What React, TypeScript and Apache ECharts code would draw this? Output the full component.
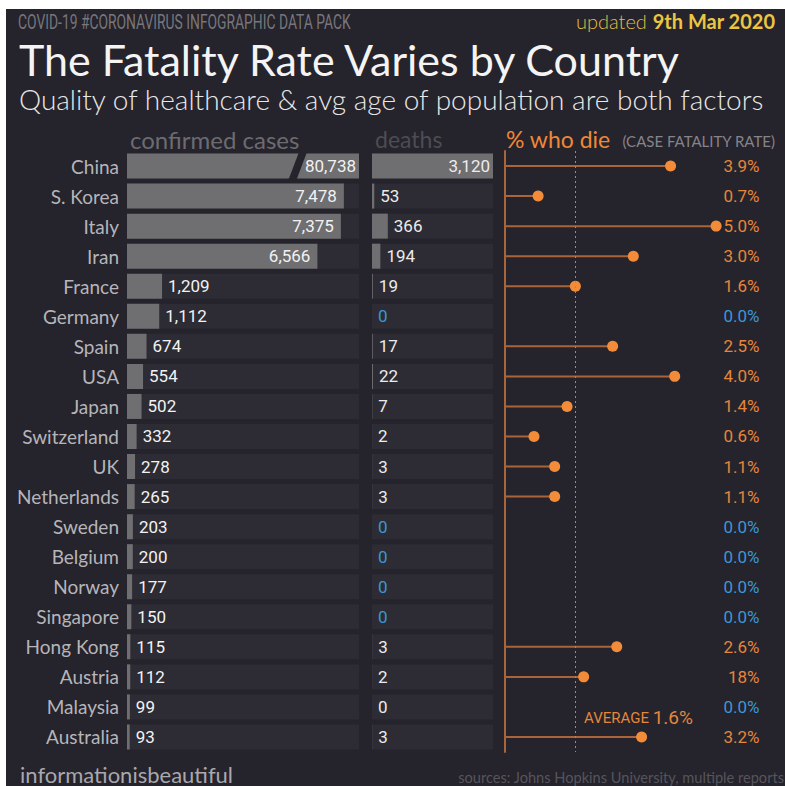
import React, { useEffect, useRef } from "react";
import * as echarts from "echarts";

const countries = ["China", "S. Korea", "Italy", "Iran", "France", "Germany", "Spain", "USA", "Japan", "Switzerland", "UK", "Netherlands", "Sweden", "Belgium", "Norway", "Singapore", "Hong Kong", "Austria", "Malaysia", "Australia"];
const confirmedCases = [80738, 7478, 7375, 6566, 1209, 1112, 674, 554, 502, 332, 278, 265, 203, 200, 177, 150, 115, 112, 99, 93];
const deaths = [3120, 53, 366, 194, 19, 0, 17, 22, 7, 2, 3, 3, 0, 0, 0, 0, 3, 2, 0, 3];
const fatalityRate = [3.9, 0.7, 5.0, 3.0, 1.6, 0.0, 2.5, 4.0, 1.4, 0.6, 1.1, 1.1, 0.0, 0.0, 0.0, 0.0, 2.6, 1.8, 0.0, 3.2];
const rateLabels = ["3.9%", "0.7%", "5.0%", "3.0%", "1.6%", "0.0%", "2.5%", "4.0%", "1.4%", "0.6%", "1.1%", "1.1%", "0.0%", "0.0%", "0.0%", "0.0%", "2.6%", "18%", "0.0%", "3.2%"];
const blueZeroDeaths = ["Germany", "Sweden", "Belgium", "Norway", "Singapore"];
const averageRate = 1.6;
const casesAxisMax = 8000;
const deathsAxisMax = 2800;

const BG = "#25232b";
const TRACK = "#2d2b33";
const BAR = "#6f6e71";
const ORANGE = "#f28c38";
const ORANGE_TEXT = "#e4863c";
const STEM = "#a9643a";
const BLUE = "#3b97d6";
const NUM_FONT = "Roboto, sans-serif";
const TXT_FONT = "Lato, 'Noto Sans', sans-serif";

const fmt = (v: number) => v.toLocaleString("en-US");

export default function App() {
  const ref = useRef<HTMLDivElement>(null);
  useEffect(() => {
    if (!ref.current) return;
    const chart = echarts.init(ref.current, undefined, { renderer: "svg" });
    const top = 151;
    const height = 601;
    const catAxis = (gridIndex: number, extra: any = {}) => ({
      type: "category",
      gridIndex,
      inverse: true,
      data: countries,
      axisTick: { show: false },
      axisLine: { show: false },
      axisLabel: { show: false },
      splitLine: { show: false },
      ...extra,
    });
    const valAxis = (gridIndex: number, min: number, max: number) => ({
      type: "value",
      gridIndex,
      min,
      max,
      show: false,
      splitLine: { show: false },
    });

    const option: any = {
      animation: false,
      backgroundColor: "#ffffff",
      textStyle: { fontFamily: TXT_FONT },
      grid: [
        { left: 127, top, width: 232, height },
        { left: 372, top, width: 121, height },
        { left: 505, top, width: 252.5, height },
      ],
      xAxis: [valAxis(0, 0, casesAxisMax), valAxis(1, 0, deathsAxisMax), valAxis(2, -0.1, 6)],
      yAxis: [
        catAxis(0, {
          axisLabel: { show: true, color: "#b6b5ba", fontSize: 19, fontFamily: TXT_FONT, margin: 8 },
        }),
        catAxis(1),
        catAxis(2, {
          axisLine: { show: true, onZero: false, lineStyle: { color: STEM, width: 2 } },
        }),
        catAxis(2, {
          position: "right",
          axisLabel: {
            show: true,
            align: "right",
            margin: 2,
            fontSize: 17,
            fontFamily: NUM_FONT,
            color: (_v: any, i: number) => (fatalityRate[i] > 0 ? ORANGE_TEXT : BLUE),
            formatter: (_v: any, i: number) => rateLabels[i],
          },
        }),
      ],
      series: [
        {
          type: "bar",
          xAxisIndex: 0,
          yAxisIndex: 0,
          barWidth: 25,
          showBackground: true,
          backgroundStyle: { color: TRACK },
          itemStyle: { color: BAR },
          data: confirmedCases.map((v, i) => ({
            value: Math.min(v, casesAxisMax),
            label: {
              show: true,
              position: v > 3000 ? "insideRight" : "right",
              distance: i === 0 ? 3 : v > 3000 ? 7 : 6,
              color: "#f2f2f2",
              fontSize: 17,
              fontFamily: NUM_FONT,
              formatter: () => fmt(v),
            },
          })),
        },
        {
          type: "bar",
          xAxisIndex: 1,
          yAxisIndex: 1,
          barWidth: 25,
          showBackground: true,
          backgroundStyle: { color: TRACK },
          itemStyle: { color: BAR },
          data: deaths.map((v, i) => ({
            value: Math.min(v, deathsAxisMax),
            label: {
              show: true,
              position: v > deathsAxisMax ? "insideRight" : "right",
              distance: v > deathsAxisMax ? 3 : 6,
              color: v === 0 && blueZeroDeaths.includes(countries[i]) ? BLUE : "#ececec",
              fontSize: 17,
              fontFamily: NUM_FONT,
              formatter: () => fmt(v),
            },
          })),
        },
        {
          type: "custom",
          xAxisIndex: 2,
          yAxisIndex: 2,
          data: fatalityRate.map((v, i) => [v, i]),
          encode: { x: 0, y: 1 },
          renderItem: (params: any, api: any) => {
            const v = api.value(0);
            if (!(v > 0)) return { type: "group", children: [] };
            const start = api.coord([-0.1, api.value(1)]);
            const end = api.coord([v, api.value(1)]);
            return {
              type: "group",
              children: [
                {
                  type: "line",
                  shape: { x1: start[0], y1: start[1], x2: end[0], y2: end[1] },
                  style: { stroke: STEM, lineWidth: 2 },
                },
                {
                  type: "circle",
                  shape: { cx: end[0], cy: end[1], r: 5.5 },
                  style: { fill: ORANGE },
                },
              ],
            };
          },
          markLine: {
            silent: true,
            symbol: "none",
            label: { show: false },
            lineStyle: { color: "#8f8e94", type: [2, 3], width: 1 },
            data: [{ xAxis: averageRate }],
          },
        },
      ],
      graphic: [
        { type: "rect", z: -10, shape: { x: 6, y: 9, width: 800, height: 800 }, style: { fill: BG } },
        {
          type: "polygon",
          z: 100,
          shape: { points: [[299, 152], [307, 152], [296, 181], [288, 181]] },
          style: { fill: BG },
        },
        {
          type: "text", z: 100, x: 18, y: 21, scaleX: 0.66,
          style: { text: "COVID-19 #CORONAVIRUS INFOGRAPHIC DATA PACK", fill: "#77767c", fontSize: 21, fontFamily: NUM_FONT, verticalAlign: "middle" },
        },
        {
          type: "text", z: 100, x: 775, y: 21,
          style: {
            text: "{a|updated }{b|9th Mar 2020}",
            align: "right",
            verticalAlign: "middle",
            rich: {
              a: { fill: "#e2bf45", fontSize: 20, fontFamily: TXT_FONT, fontWeight: 300 },
              b: { fill: "#ecc643", fontSize: 20, fontFamily: TXT_FONT, fontWeight: "bold" },
            },
          },
        },
        {
          type: "text", z: 100, x: 19, y: 59,
          style: { text: "The Fatality Rate Varies by Country", fill: "#f4f4f4", fontSize: 43, fontFamily: TXT_FONT, fontWeight: 400, verticalAlign: "middle" },
        },
        {
          type: "text", z: 100, x: 19, y: 99,
          style: { text: "Quality of healthcare & avg age of population are both factors", fill: "#e8e8e8", fontSize: 28, fontFamily: TXT_FONT, fontWeight: 300, verticalAlign: "middle" },
        },
        {
          type: "text", z: 100, x: 130, y: 139,
          style: { text: "confirmed cases", fill: "#6c6b71", fontSize: 24, fontFamily: TXT_FONT, verticalAlign: "middle" },
        },
        {
          type: "text", z: 100, x: 375, y: 139,
          style: { text: "deaths", fill: "#4d4c53", fontSize: 23, fontFamily: TXT_FONT, verticalAlign: "middle" },
        },
        {
          type: "text", z: 100, x: 506, y: 139,
          style: { text: "% who die", fill: "#ee8838", fontSize: 23, fontFamily: TXT_FONT, verticalAlign: "middle" },
        },
        {
          type: "text", z: 100, x: 775, y: 141,
          style: { text: "(CASE FATALITY RATE)", fill: "#85848a", fontSize: 15, fontFamily: TXT_FONT, align: "right", verticalAlign: "middle" },
        },
        {
          type: "text", z: 100, x: 584, y: 717,
          style: {
            text: "{a|AVERAGE }{b|1.6%}",
            verticalAlign: "middle",
            rich: {
              a: { fill: "#e4863c", fontSize: 15, fontFamily: NUM_FONT, padding: [2, 0, 0, 0] },
              b: { fill: "#e4863c", fontSize: 19, fontFamily: NUM_FONT },
            },
          },
        },
        {
          type: "text", z: 100, x: 20, y: 774,
          style: { text: "informationisbeautiful", fill: "#a9a8ae", fontSize: 22, fontFamily: TXT_FONT, verticalAlign: "middle" },
        },
        {
          type: "text", z: 100, x: 784, y: 777,
          style: { text: "sources: Johns Hopkins University, multiple reports", fill: "#56555c", fontSize: 14.6, fontFamily: TXT_FONT, align: "right", verticalAlign: "middle" },
        },
      ],
    };
    chart.setOption(option);
    return () => chart.dispose();
  }, []);
  return <div ref={ref} style={{ position: "fixed", left: 0, top: 0, width: 785, height: 786 }} />;
}
